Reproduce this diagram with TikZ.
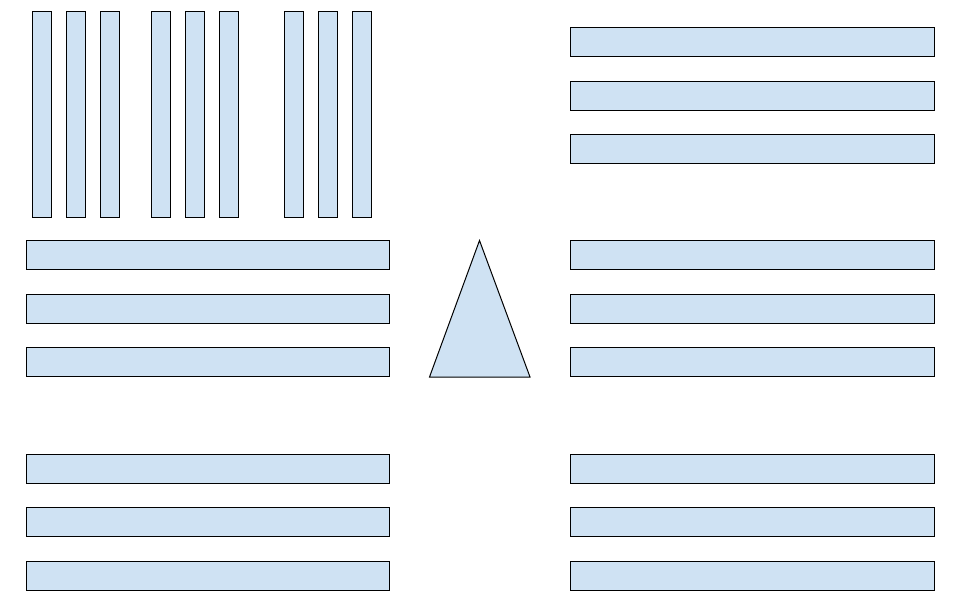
\documentclass[tikz,border=0pt]{standalone}
\usepackage{tikz}
\definecolor{lightblue}{HTML}{CFE2F3}
\tikzset{
  bar/.style = {draw = black, fill = lightblue, line width = 1pt},
}

\begin{document}
\begin{tikzpicture}[x = 1pt, y = -1pt]
    \useasboundingbox (0,0) rectangle (960,600);
    % vertical bars, top left
    \foreach \x in {32, 66, 100, 151, 185, 219, 284, 318, 352}
      \draw [bar] (\x,11.5) rectangle ++(19,205.5);
    % horizontal bars, left
    \foreach \y in {240.5, 294, 347.5, 454, 507.5, 561}
      \draw [bar] (26.5,\y) rectangle ++(363,29);
    % horizontal bars, right
    \foreach \y in {27.5, 81, 134.5, 240.5, 294, 347.5, 454, 507.5, 561}
      \draw [bar] (570.5,\y) rectangle ++(363.5,29);
    % triangle in the middle
    \draw [bar, line join = miter] (479.5,240.5) -- (530,377) -- (429.5,377) -- cycle;
  \end{tikzpicture}
\end{document}
